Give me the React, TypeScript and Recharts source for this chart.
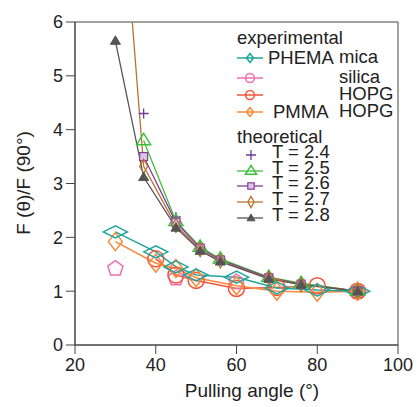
import React from "react";
import { ComposedChart, Line, XAxis, YAxis, ReferenceArea } from "recharts";

// experimental data
const phemaMicaX = [30, 40, 45, 50, 60, 70, 80, 90];
const phemaMicaY = [2.1, 1.73, 1.45, 1.3, 1.26, 1.06, 1.02, 1.0];
const silicaX = [30, 45, 60, 90];
const silicaY = [1.42, 1.24, 1.17, 1.0];
const hopgX = [40, 45, 50, 60, 70, 80, 90];
const hopgY = [1.6, 1.3, 1.2, 1.05, 1.07, 1.1, 1.0];
const pmmaX = [30, 40, 45, 50, 60, 70, 80, 90];
const pmmaY = [1.92, 1.52, 1.42, 1.25, 1.1, 1.0, 0.98, 1.0];

// theoretical data
const theoX = [37, 45, 51, 56, 68, 76, 90];
const t24 = [4.3, 2.38, 1.83, 1.6, 1.27, 1.14, 1.0];
const t25 = [3.8, 2.3, 1.82, 1.6, 1.26, 1.15, 1.0];
const t26 = [3.5, 2.28, 1.8, 1.58, 1.25, 1.13, 1.0];
const theoX2 = [30, 37, 45, 51, 56, 68, 76, 90];
const t27 = [10, 3.32, 2.22, 1.77, 1.56, 1.24, 1.12, 1.0];
const t28 = [5.65, 3.12, 2.18, 1.75, 1.55, 1.23, 1.12, 1.0];

const xTicks = [20, 40, 60, 80, 100];
const yTicks = [0, 1, 2, 3, 4, 5, 6];

const zip = (xs: number[], ys: number[]) => xs.map((x, i) => ({ x, y: ys[i] }));

const TEAL = "#1fa59b";
const PINK = "#ee6fb0";
const RED = "#f4553f";
const ORANGE = "#f98a3a";
const PURPLE = "#6a3d9e";
const GREEN = "#3cc03c";
const VIOLET = "#8b3a9c";
const BROWN = "#b8742e";
const GRAY = "#555555";
const FONT = "'Liberation Sans', Arial, sans-serif";
const TEXT = "#222";

type Shape = "wdiamond" | "pentagon" | "circle" | "vdiamond" | "plus" | "triangle" | "square" | "ndiamond" | "ftriangle";

function marker(shape: Shape, color: string, cx: number, cy: number, s = 1) {
  const sw = 1.5;
  switch (shape) {
    case "wdiamond": {
      const w = 12 * s, h = 6 * s;
      return <polygon points={`${cx - w},${cy} ${cx},${cy - h} ${cx + w},${cy} ${cx},${cy + h}`} fill="none" stroke={color} strokeWidth={sw} />;
    }
    case "pentagon": {
      const r = 8 * s;
      const pts = [0, 1, 2, 3, 4].map((k) => {
        const a = ((-90 + 72 * k) * Math.PI) / 180;
        return `${cx + r * Math.cos(a)},${cy + r * Math.sin(a)}`;
      });
      return <polygon points={pts.join(" ")} fill="none" stroke={color} strokeWidth={sw} />;
    }
    case "circle":
      return <circle cx={cx} cy={cy} r={8 * s} fill="none" stroke={color} strokeWidth={sw} />;
    case "vdiamond": {
      const w = 7 * s, h = 9 * s;
      return <polygon points={`${cx - w},${cy} ${cx},${cy - h} ${cx + w},${cy} ${cx},${cy + h}`} fill="none" stroke={color} strokeWidth={sw} />;
    }
    case "plus": {
      const r = 5 * s;
      return <path d={`M${cx - r},${cy}H${cx + r}M${cx},${cy - r}V${cy + r}`} stroke={color} strokeWidth={1.3} />;
    }
    case "triangle": {
      const r = 7 * s;
      return <polygon points={`${cx},${cy - r} ${cx + r},${cy + r * 0.6} ${cx - r},${cy + r * 0.6}`} fill="none" stroke={color} strokeWidth={sw} />;
    }
    case "square": {
      const r = 4 * s;
      return <rect x={cx - r} y={cy - r} width={2 * r} height={2 * r} fill="#d9c6e3" stroke={color} strokeWidth={1.2} />;
    }
    case "ndiamond": {
      const w = 4 * s, h = 7 * s;
      return <polygon points={`${cx - w},${cy} ${cx},${cy - h} ${cx + w},${cy} ${cx},${cy + h}`} fill="none" stroke={color} strokeWidth={1.3} />;
    }
    case "ftriangle": {
      const r = 5 * s;
      return <polygon points={`${cx},${cy - r} ${cx + r},${cy + r * 0.7} ${cx - r},${cy + r * 0.7}`} fill={color} stroke={color} strokeWidth={1} />;
    }
  }
}

const dot = (shape: Shape, color: string) => (p: any) => (
  <g key={`${shape}-${p.index}`}>{marker(shape, color, p.cx, p.cy)}</g>
);

const expRows = [
  { y: 58, shape: "vdiamond" as Shape, color: TEAL, a: "PHEMA", ax: 268, b: "mica" },
  { y: 78, shape: "circle" as Shape, color: PINK, a: "", ax: 268, b: "silica" },
  { y: 95, shape: "circle" as Shape, color: RED, a: "", ax: 268, b: "HOPG" },
  { y: 112, shape: "vdiamond" as Shape, color: ORANGE, a: "PMMA", ax: 273, b: "HOPG" },
];
const theoRows = [
  { y: 155, shape: "plus" as Shape, color: PURPLE, label: "T = 2.4", line: false },
  { y: 171, shape: "triangle" as Shape, color: GREEN, label: "T = 2.5", line: true },
  { y: 186, shape: "square" as Shape, color: VIOLET, label: "T = 2.6", line: true },
  { y: 202, shape: "ndiamond" as Shape, color: BROWN, label: "T = 2.7", line: true },
  { y: 218, shape: "ftriangle" as Shape, color: GRAY, label: "T = 2.8", line: true },
];

function Overlay() {
  return (
    <svg width={418} height={407} style={{ position: "absolute", left: 0, top: 0, pointerEvents: "none" }} fontFamily={FONT}>
      <text x={237} y={44} fontSize={18.5} fill={TEXT}>experimental</text>
      {expRows.map((r) => (
        <g key={r.b + r.y}>
          <line x1={237} x2={263} y1={r.y} y2={r.y} stroke={r.color} strokeWidth={1.5} />
          {marker(r.shape, r.color, 250, r.y, r.shape === "circle" ? 0.55 : 0.5)}
          {r.a && <text x={r.ax} y={r.y + 6} fontSize={18.5} fill={TEXT}>{r.a}</text>}
          <text x={339} y={r.y + 5} fontSize={18.5} fill={TEXT}>{r.b}</text>
        </g>
      ))}
      <text x={237} y={143} fontSize={18.5} fill={TEXT}>theoretical</text>
      {theoRows.map((r) => (
        <g key={r.label}>
          {r.line && <line x1={237} x2={263} y1={r.y} y2={r.y} stroke={r.color} strokeWidth={1.3} />}
          {marker(r.shape, r.color, 251, r.y, r.shape === "plus" ? 1 : 0.8)}
          <text x={272} y={r.y + 3} fontSize={18.5} fill={TEXT}>{r.label}</text>
        </g>
      ))}
      <text x={25} y={183} fontSize={19} fill={TEXT} textAnchor="middle" transform="rotate(-90 25 183)" dominantBaseline="middle">
        F (θ)/F (90°)
      </text>
      <text x={252} y={392} fontSize={19} fill={TEXT} textAnchor="middle" dominantBaseline="middle">
        Pulling angle (°)
      </text>
    </svg>
  );
}

export default function App() {
  const tick = { fontSize: 18, fill: TEXT, fontFamily: FONT };
  return (
    <div style={{ position: "relative", width: 418, height: 407, background: "#fff" }}>
      <style>{`body { margin: 0; }`}</style>
      <ComposedChart width={418} height={407} margin={{ top: 22, right: 20, left: 0, bottom: 0 }}>
        <XAxis
          dataKey="x"
          type="number"
          domain={[20, 100]}
          ticks={xTicks}
          height={62}
          tick={tick}
          tickSize={9}
          tickMargin={4}
          stroke="#444"
          allowDuplicatedCategory={false}
        />
        <YAxis
          dataKey="y"
          type="number"
          domain={[0, 6]}
          ticks={yTicks}
          allowDataOverflow
          width={75}
          tick={tick}
          tickSize={9}
          tickMargin={3}
          stroke="#444"
        />
        <ReferenceArea x1={20} x2={100} y1={0} y2={6} fill="none" stroke="#444" strokeWidth={1} />
        <Line data={zip(silicaX, silicaY)} dataKey="y" stroke="none" dot={dot("pentagon", PINK)} isAnimationActive={false} />
        <Line data={zip(hopgX, hopgY)} dataKey="y" stroke={RED} strokeWidth={1.5} dot={dot("circle", RED)} isAnimationActive={false} />
        <Line data={zip(pmmaX, pmmaY)} dataKey="y" stroke={ORANGE} strokeWidth={1.5} dot={dot("vdiamond", ORANGE)} isAnimationActive={false} />
        <Line data={zip(phemaMicaX, phemaMicaY)} dataKey="y" stroke={TEAL} strokeWidth={1.5} dot={dot("wdiamond", TEAL)} isAnimationActive={false} />
        <Line data={zip(theoX, t24)} dataKey="y" stroke="none" dot={dot("plus", PURPLE)} isAnimationActive={false} />
        <Line data={zip(theoX, t25)} dataKey="y" stroke={GREEN} strokeWidth={1.3} dot={dot("triangle", GREEN)} isAnimationActive={false} />
        <Line data={zip(theoX, t26)} dataKey="y" stroke={VIOLET} strokeWidth={1.3} dot={dot("square", VIOLET)} isAnimationActive={false} />
        <Line data={zip(theoX2, t27)} dataKey="y" stroke={BROWN} strokeWidth={1.3} dot={dot("ndiamond", BROWN)} isAnimationActive={false} />
        <Line data={zip(theoX2, t28)} dataKey="y" stroke={GRAY} strokeWidth={1.3} dot={dot("ftriangle", GRAY)} isAnimationActive={false} />
      </ComposedChart>
      <Overlay />
    </div>
  );
}
